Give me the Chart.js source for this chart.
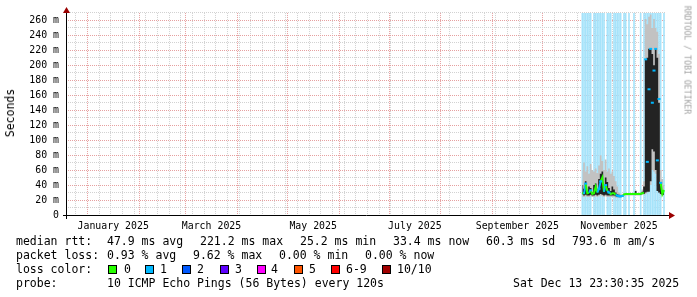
<!DOCTYPE html>
<html>
<head>
<meta charset="utf-8">
<script src="https://cdn.jsdelivr.net/npm/chart.js@4.4.1/dist/chart.umd.min.js"></script>
<style>
  html, body { margin: 0; padding: 0; background: #fff; }
  #wrap { position: relative; width: 697px; height: 297px; overflow: hidden; font-family: "DejaVu Sans Mono", monospace; color: #000; }
  #chart { position: absolute; left: 0; top: 0; }
  .t { position: absolute; font-size: 11.5px; line-height: 14px; white-space: pre; }
  .box { position: absolute; width: 7px; height: 7px; border: 1px solid #000; top: 265px; }
  #ylab { position: absolute; left: 10px; top: 113px; font-size: 11.5px; line-height: 12px; white-space: pre; transform: translate(-50%, -50%) rotate(-90deg); }
  #wm { position: absolute; left: 687px; top: 60px; font-size: 8.2px; line-height: 9px; white-space: pre; color: #a0a0a0; transform: translate(-50%, -50%) rotate(90deg); }
</style>
</head>
<body>
<div id="wrap">
  <canvas id="chart" width="697" height="297"></canvas>
  <div id="ylab">Seconds</div>
  <div id="wm">RRDTOOL / TOBI OETIKER</div>
  <div id="legend"></div>
</div>
<script>
// days since 1 Jan 2025 (only the last weeks carry data)
var days       = [297,298,299,300,301,302,303,304,305,306,307,308,309,310,311,312,313,314,315,316,317,318,319,320,321,322,323,324,325,326,327,328,329,330,331,332,333,334,335,336,337,338,339,340,341,342,343,344,345,346];
// max loss in the interval (drives the light blue background)
var lossMax    = [1,1,1,1,1,1,0,1,1,1,1,1,1,1,0,1,1,1,0,1,1,1,1,1,0,1,1,0,1,0,0,1,0,0,0,1,0,1,1,1,1,1,1,1,1,1,1,1,0,1];
// smoke (ms)
var smokeLo    = [24,24,25,24,24,25,24,24,25,24,25,26,25,24,25,24,24,24,24,24,23,23,23,23,24,26,26,26,26,26,26,26,26,26,26,26,27,27,28,30,32,40,60,58,55,40,30,27,26,26];
var smokeHi    = [60,70,58,65,55,68,60,58,62,56,66,80,72,60,74,58,62,55,58,52,45,38,30,28,27,29,29,29,29,29,29,29,33,29,29,30,34,45,262,255,265,268,250,262,250,245,215,60,48,40];
var coreLo     = [27,26,27,26,26,27,26,26,27,26,27,28,27,26,27,26,26,26,26,26,25,24,24,24,25,27,27,27,27,27,27,27,27,27,27,27,28,28,30,31,31,45,88,85,60,32,30,28,27,27];
var coreHi     = [40,35,45,32,38,36,30,40,42,34,48,55,58,36,50,44,36,32,38,34,30,28,27,26,26,28,28,28,28,28,28,28,32,28,28,28,31,38,208,210,222,222,215,200,222,210,150,42,33,32];
// median rtt (ms) and the loss level it is coloured by
var median     = [30,28,42,29,30,33,28,29,38,30,35,45,50,31,40,32,30,28,29,29,27,26,25,25,25.5,27.5,28,28,28,28,28,28,28.5,28,28,28.5,29,30,208,71,168,222,150,193,222,73,155,43,28,33.4];
var medianLoss = [0,0,1,0,0,1,0,0,0,0,1,1,0,0,1,0,1,0,0,0,0,1,1,1,1,0,0,0,0,0,0,0,0,0,0,0,0,0,1,1,1,1,1,1,1,1,1,1,0,0];

var monthStarts    = [0,31,59,90,120,151,181,212,243,273,304,334];
var monthLabelDays = [15.5,74.5,135.5,196.5,258,319];
var monthLabels    = ['January 2025','March 2025','May 2025','July 2025','September 2025','November 2025'];

var lossColors = ['#26ff00','#00b8ff','#0059ff','#5e00ff','#ff00ff','#ff5500','#ff0000','#a10000'];
var lossNames  = ['0','1','2','3','4','5','6-9','10/10'];

var xMin = -12.8, xMax = 347.2, yMax = 270;
var majorGrid = '#e6a0a0', minorGrid = '#d2d2d2', noGrid = 'rgba(0,0,0,0)';

// weekly minor grid + month lines + label positions
var weekDays = [];
for (var w = -7; w <= 343; w += 7) weekDays.push(w);
var xTickValues = weekDays.filter(function (d) { return monthStarts.indexOf(d) < 0; })
    .concat(monthStarts).concat(monthLabelDays).sort(function (a, b) { return a - b; });

function pts(arr) {
    return days.map(function (d, i) { return { x: d, y: arr[i] }; });
}

var axisArrows = {
    id: 'axisArrows',
    afterDraw: function (chart) {
        var ca = chart.chartArea, c = chart.ctx;
        c.save();
        c.strokeStyle = '#000';
        c.lineWidth = 1;
        c.beginPath();
        c.moveTo(ca.left - 3, ca.bottom + 0.5);
        c.lineTo(ca.right + 4, ca.bottom + 0.5);
        c.moveTo(ca.left + 0.5, ca.bottom + 4);
        c.lineTo(ca.left + 0.5, ca.top - 3);
        c.stroke();
        c.fillStyle = '#9a0000';
        c.beginPath();
        c.moveTo(ca.right + 3, ca.bottom - 3);
        c.lineTo(ca.right + 9, ca.bottom + 0.5);
        c.lineTo(ca.right + 3, ca.bottom + 4);
        c.closePath();
        c.fill();
        c.beginPath();
        c.moveTo(ca.left - 3, ca.top + 0);
        c.lineTo(ca.left + 0.5, ca.top - 6);
        c.lineTo(ca.left + 4, ca.top + 0);
        c.closePath();
        c.fill();
        c.restore();
    }
};

Chart.defaults.font.family = "'DejaVu Sans Mono', monospace";
Chart.defaults.color = '#000';

var ctx = document.getElementById('chart').getContext('2d');
new Chart(ctx, {
    type: 'bar',
    data: {
        datasets: [
            { type: 'bar', label: 'loss', data: days.map(function (d, i) { return { x: d, y: lossMax[i] > 0 ? yMax : null }; }),
              backgroundColor: '#a6e3fa', borderWidth: 0, barPercentage: 1, categoryPercentage: 1, inflateAmount: 0.4, order: 5 },
            { type: 'line', label: 'smokeLo', data: pts(smokeLo), borderColor: 'transparent', borderWidth: 0, pointRadius: 0, stepped: 'middle', fill: false, order: 4 },
            { type: 'line', label: 'smokeHi', data: pts(smokeHi), borderColor: 'transparent', borderWidth: 0, pointRadius: 0, stepped: 'middle', fill: '-1', backgroundColor: '#c2c2c2', order: 4 },
            { type: 'line', label: 'coreLo', data: pts(coreLo), borderColor: 'transparent', borderWidth: 0, pointRadius: 0, stepped: 'middle', fill: false, order: 3 },
            { type: 'line', label: 'coreHi', data: pts(coreHi), borderColor: 'transparent', borderWidth: 0, pointRadius: 0, stepped: 'middle', fill: '-1', backgroundColor: '#232323', order: 3 },
            { type: 'line', label: 'median', data: pts(median), borderWidth: 2, tension: 0, fill: false, order: 1,
              borderColor: lossColors[0],
              pointStyle: 'line', pointBorderWidth: 2,
              pointRadius: function (c) { return medianLoss[c.dataIndex] ? 1.5 : 0; },
              pointBorderColor: function (c) { return lossColors[medianLoss[c.dataIndex]]; },
              segment: { borderColor: function (c) {
                  if (Math.abs(c.p1.parsed.y - c.p0.parsed.y) > 25) return 'transparent';
                  return lossColors[medianLoss[c.p1DataIndex]];
              } } }
        ]
    },
    options: {
        animation: false,
        responsive: false,
        events: [],
        layout: { padding: { left: 0, right: 31, top: 12, bottom: 62 } },
        plugins: { legend: { display: false }, tooltip: { enabled: false } },
        scales: {
            x: {
                type: 'linear', min: xMin, max: xMax, z: 1, offset: false,
                afterBuildTicks: function (scale) {
                    scale.ticks = xTickValues.map(function (v) { return { value: v }; });
                },
                afterFit: function (scale) { scale.height = 20; },
                grid: {
                    drawTicks: false, offset: false,
                    color: function (c) {
                        if (!c.tick) return noGrid;
                        var v = c.tick.value;
                        if (monthStarts.indexOf(v) >= 0) return majorGrid;
                        if (monthLabelDays.indexOf(v) >= 0) return noGrid;
                        return minorGrid;
                    }
                },
                border: { display: false, dash: [1, 1] },
                ticks: {
                    autoSkip: false, maxRotation: 0, padding: 5,
                    font: { size: 9.9 },
                    callback: function (v) {
                        var k = monthLabelDays.indexOf(v);
                        return k >= 0 ? monthLabels[k] : '';
                    }
                }
            },
            y: {
                type: 'linear', min: 0, max: yMax, z: 1,
                afterFit: function (scale) { scale.width = 66; },
                grid: {
                    drawTicks: false,
                    color: function (c) {
                        if (!c.tick) return noGrid;
                        var v = c.tick.value;
                        if (v === 0) return noGrid;
                        return v % 20 === 0 ? majorGrid : minorGrid;
                    }
                },
                border: { display: false, dash: [1, 1] },
                ticks: {
                    stepSize: 10, autoSkip: false, padding: 7,
                    font: { size: 9.9 },
                    callback: function (v) {
                        if (v % 20 !== 0) return '';
                        return v === 0 ? '0' : v + ' m';
                    }
                }
            }
        }
    },
    plugins: [axisArrows]
});

// legend text under the plot
var legendRows = [
    [[16, 234, 'median rtt:'], [107, 234, '47.9 ms avg'], [200, 234, '221.2 ms max'], [300, 234, '25.2 ms min'], [393, 234, '33.4 ms now'], [486, 234, '60.3 ms sd'], [572, 234, '793.6 m am/s']],
    [[16, 248, 'packet loss:'], [107, 248, '0.93 % avg'], [193, 248, '9.62 % max'], [279, 248, '0.00 % min'], [365, 248, '0.00 % now']],
    [[16, 262, 'loss color:']],
    [[16, 276, 'probe:'], [107, 276, '10 ICMP Echo Pings (56 Bytes) every 120s'], [513, 276, 'Sat Dec 13 23:30:35 2025']]
];
var boxLefts  = [108, 145, 182, 220, 257, 294, 331, 382];
var nameLefts = [124, 160, 197, 235, 271, 309, 346, 397];
var legend = document.getElementById('legend');
legendRows.forEach(function (row) {
    row.forEach(function (item) {
        var el = document.createElement('div');
        el.className = 't';
        el.style.left = item[0] + 'px';
        el.style.top = item[1] + 'px';
        el.textContent = item[2];
        legend.appendChild(el);
    });
});
lossColors.forEach(function (col, i) {
    var b = document.createElement('div');
    b.className = 'box';
    b.style.left = boxLefts[i] + 'px';
    b.style.background = col;
    legend.appendChild(b);
    var n = document.createElement('div');
    n.className = 't';
    n.style.left = nameLefts[i] + 'px';
    n.style.top = '262px';
    n.textContent = lossNames[i];
    legend.appendChild(n);
});
</script>
</body>
</html>
